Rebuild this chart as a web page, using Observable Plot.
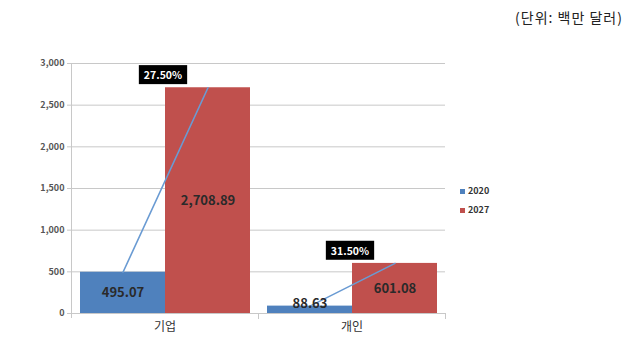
<!DOCTYPE html>
<html><head><meta charset="utf-8">
<script src="https://cdn.jsdelivr.net/npm/d3@7"></script>
<script src="https://cdn.jsdelivr.net/npm/@observablehq/plot@0.6"></script>
<style>
body{margin:0;background:#fff;font-family:"Noto Sans CJK KR","Noto Sans",sans-serif;}
#wrap{position:relative;width:639px;height:348px;}
#unit{position:absolute;right:16px;top:7px;font-size:14px;color:#222;letter-spacing:1px;}
#legend{position:absolute;left:460px;top:181px;font-size:9px;font-weight:bold;color:#333;line-height:19px;}
#legend span.sw{display:inline-block;width:5px;height:5px;margin-right:3px;vertical-align:middle;}
</style></head>
<body><div id="wrap"><div id="unit">(단위:  백만  달러)</div><div id="chart"></div><div id="legend"></div></div>
<script>
const categories = ["기업", "개인"];
const years = ["2020", "2027"];
const values2020 = [495.07, 88.63];
const values2027 = [2708.89, 601.08];
const valueLabels2020 = ["495.07", "88.63"];
const valueLabels2027 = ["2,708.89", "601.08"];
const growthLabels = ["27.50%", "31.50%"];
const yTicks = [0, 500, 1000, 1500, 2000, 2500, 3000];
const colors = ["#4F81BD", "#C0504D"];

const rows = [];
categories.forEach((c, i) => {
  rows.push({cat: c, year: years[0], value: values2020[i], label: valueLabels2020[i]});
  rows.push({cat: c, year: years[1], value: values2027[i], label: valueLabels2027[i]});
});
const growth = categories.map((c, i) => ({cat: c, year: years[1], value: values2027[i], label: growthLabels[i]}));
const small = rows.filter(d => d.value < 200);
const big = rows.filter(d => d.value >= 200);

const chart = Plot.plot({
  width: 639, height: 348,
  marginLeft: 71, marginRight: 194, marginTop: 63, marginBottom: 35,
  style: {fontFamily: '"Noto Sans CJK KR","Noto Sans",sans-serif', background: "#fff"},
  fx: {domain: categories, padding: 0, label: null},
  x: {domain: years, paddingInner: 0, paddingOuter: 0.094, axis: null},
  y: {domain: [0, 3000], axis: null},
  color: {domain: years, range: colors},
  marks: [
    Plot.gridY(yTicks, {stroke: "#c8c8c8", strokeOpacity: 1, strokeWidth: 1}),
    Plot.frame({anchor: "left", facet: "super", stroke: "#c8c8c8", insetBottom: -4}),
    Plot.frame({anchor: "right", stroke: "#c8c8c8", insetTop: 250, insetBottom: -5}),
    Plot.ruleY([0], {stroke: "#c8c8c8"}),
    Plot.axisY({ticks: yTicks, tickFormat: d3.format(","), tickSize: 4, tickPadding: 3, fontSize: 9, fontWeight: "bold", fill: "#555", stroke: "#c8c8c8", label: null}),
    Plot.axisFx({anchor: "bottom", tickSize: 0, tickPadding: 9, fontSize: 12, fill: "#333", label: null}),
    Plot.barY(rows, {fx: "cat", x: "year", y: "value", fill: "year", inset: 0}),
    Plot.line(rows, {fx: "cat", x: "year", y: "value", stroke: "#6A9BD3", strokeWidth: 1.6}),
    Plot.text(big, {fx: "cat", x: "year", y: d => d.value / 2, text: "label", fontSize: 13, fontWeight: "bold", fill: "#2a2a2a"}),
    Plot.text(small, {fx: "cat", x: "year", y: "value", text: "label", lineAnchor: "bottom", dy: 2, fontSize: 13, fontWeight: "bold", fill: "#2a2a2a"}),
    Plot.text(growth, {fx: "cat", x: "year", y: "value", text: "label", dx: -45, dy: -12, fontSize: 10.5, fontWeight: "bold", fill: "#fff", className: "growth"})
  ]
});
document.getElementById("chart").appendChild(chart);

// black boxes behind the growth labels
chart.querySelectorAll(".growth text").forEach(t => {
  const b = t.getBBox();
  const r = document.createElementNS("http://www.w3.org/2000/svg", "rect");
  const px = 5, py = 2;
  r.setAttribute("x", b.x - px);
  r.setAttribute("y", b.y - py);
  r.setAttribute("width", b.width + 2 * px);
  r.setAttribute("height", b.height + 2 * py);
  r.setAttribute("fill", "#000");
  if (t.getAttribute("transform")) r.setAttribute("transform", t.getAttribute("transform"));
  t.parentNode.insertBefore(r, t);
});

const legend = document.getElementById("legend");
years.forEach((y, i) => {
  const div = document.createElement("div");
  div.innerHTML = `<span class="sw" style="background:${colors[i]}"></span>${y}`;
  legend.appendChild(div);
});
</script>
</body></html>
